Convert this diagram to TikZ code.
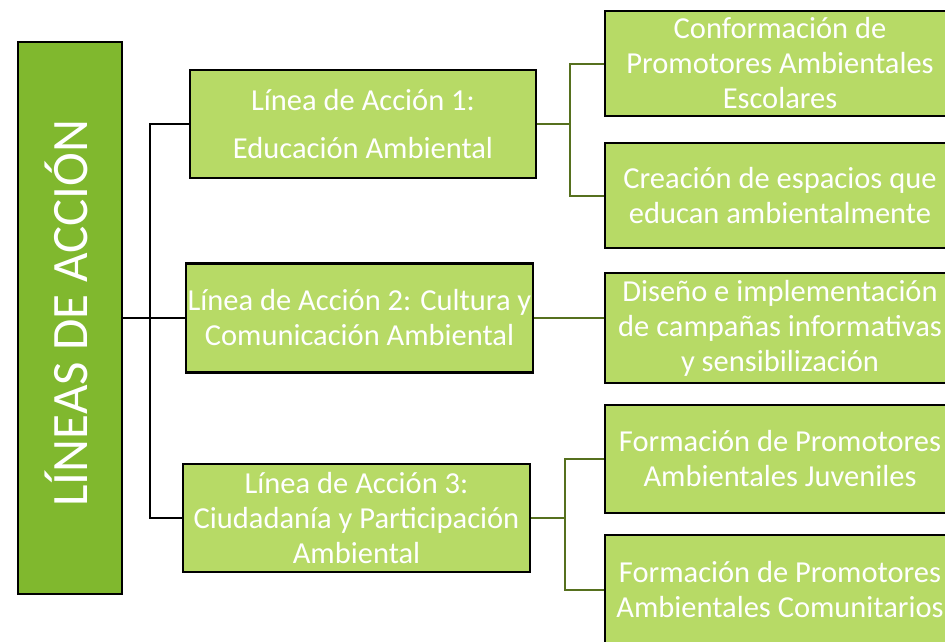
\documentclass[tikz,border=0pt]{standalone}
\usepackage{fontspec}
\setmainfont{Carlito}
\definecolor{boxlight}{HTML}{B7DA66}
\definecolor{boxdark}{HTML}{80B82E}
\definecolor{olive}{HTML}{56701E}
\tikzset{
  sbox/.style={draw=black, line width=2.8pt, fill=boxlight, text=white, align=center,
    inner sep=0pt, font=\fontsize{30.5}{35}\selectfont},
  rbox/.style={sbox, minimum width=350pt, font=\fontsize{30.5}{35}\selectfont},
  mbox/.style={draw=black, line width=2.8pt, fill=boxdark, inner sep=0pt},
  lk/.style={draw=black, line width=2.4pt},
  rk/.style={draw=olive, line width=2pt}
}
\begin{document}
\begin{tikzpicture}[x=1pt,y=-1pt]
\useasboundingbox (0,0) rectangle (945,641);
\clip (0,0) rectangle (945,641);
\fill[white] (0,0) rectangle (945,641);
% main box
\node[mbox, minimum width=104pt, minimum height=552pt] (main) at (70,318) {};
\node[rotate=90, text=white, font=\fontsize{51}{57}\selectfont, inner sep=0pt] (mainlbl) at (66,313) {LÍNEAS DE ACCIÓN};
% level 1
\node[sbox, minimum width=346pt, minimum height=108pt] (L1) at (363,124) {Línea de Acción 1:\\[13pt]Educación Ambiental};
\node[sbox, minimum width=347pt, minimum height=109pt] (L2) at (359.5,318) {Línea de Acción 2: Cultura y\\Comunicación Ambiental};
\node[sbox, minimum width=347pt, minimum height=108pt] (L3) at (356.5,518) {Línea de Acción 3:\\Ciudadanía y Participación\\Ambiental};
% level 2
\node[rbox, minimum height=105pt] (R1) at (780,63.5) {Conformación de\\Promotores Ambientales\\Escolares};
\node[rbox, minimum height=105pt] (R2) at (780,195.5) {Creación de espacios que\\educan ambientalmente};
\node[rbox, minimum height=110pt] (R3) at (780,328) {Diseño e implementación\\de campañas informativas\\y sensibilización};
\node[rbox, minimum height=108pt] (R4) at (780,459) {Formación de Promotores\\Ambientales Juveniles};
\node[rbox, minimum height=110pt] (R5) at (780,590) {Formación de Promotores\\Ambientales Comunitarios};
% left connectors
\coordinate (spine) at (150,318);
\draw[lk] (main.east) -- (L2.west);
\draw[lk] (L1.west) -| (spine) |- (L3.west);
% right connectors
\coordinate (b1) at (570,124);
\coordinate (b3) at (565,518);
\draw[rk] (L1.east) -- (b1);
\draw[rk] (R1.west) -| (b1) |- (R2.west);
\draw[rk] (L2.east) -- (L2.east -| R3.west);
\draw[rk] (L3.east) -- (b3);
\draw[rk] (R4.west) -| (b3) |- (R5.west);
\end{tikzpicture}
\end{document}
